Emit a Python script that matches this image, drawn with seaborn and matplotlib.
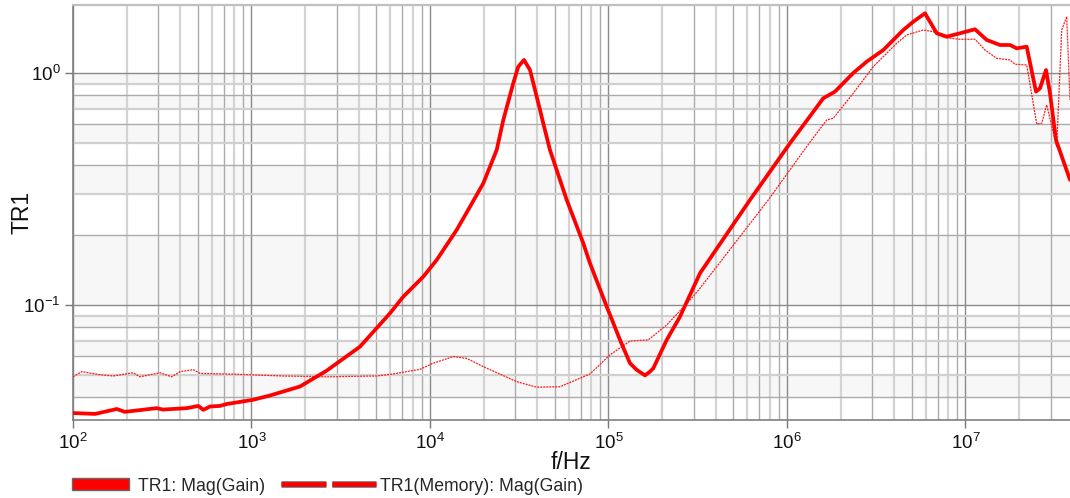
import numpy as np
import pandas as pd
import matplotlib
matplotlib.use("Agg")
import matplotlib.pyplot as plt
import matplotlib.patheffects as pe
from matplotlib.patches import Rectangle
from matplotlib.lines import Line2D
from matplotlib.ticker import LogLocator, LogFormatterSciNotation, NullLocator, NullFormatter
import seaborn as sns

# ---------------- data ----------------
freq_main = [100, 133, 176, 195, 294, 319, 434, 504, 537, 586, 666, 726, 1020, 1269, 1869,
             2638, 4054, 5970, 7086, 9172, 10900, 14110, 16760, 19890, 21680, 23640, 25740,
             29280, 31230, 33620, 36330, 39610, 41330, 43100, 47000, 58320, 72240, 78770,
             97700, 115960, 131900, 143900, 160100, 170800, 178200, 211900, 251500, 325500,
             620300, 1.039e6, 1.597e6, 1.857e6, 2.352e6, 2.796e6, 3.464e6, 4.482e6, 5.101e6,
             5.932e6, 6.900e6, 7.849e6, 9.316e6, 1.130e7, 1.315e7, 1.561e7, 1.776e7, 1.936e7,
             2.202e7, 2.483e7, 2.615e7, 2.825e7, 2.974e7, 3.214e7, 3.850e7]
gain_main = [0.0342, 0.0339, 0.0356, 0.0346, 0.0359, 0.0354, 0.0359, 0.0367, 0.0353, 0.0365,
             0.0367, 0.0374, 0.0390, 0.0407, 0.0445, 0.0521, 0.0661, 0.0921, 0.1086, 0.1324,
             0.1563, 0.2106, 0.2653, 0.3345, 0.3946, 0.4657, 0.627, 0.903, 1.065, 1.138, 1.03,
             0.790, 0.693, 0.607, 0.4657, 0.2836, 0.1845, 0.1512, 0.0984, 0.0707, 0.0561,
             0.0525, 0.0497, 0.0516, 0.0533, 0.0707, 0.089, 0.137, 0.2836, 0.4977, 0.778,
             0.831, 1.0, 1.119, 1.256, 1.532, 1.664, 1.808, 1.483, 1.434, 1.483, 1.543, 1.388,
             1.32, 1.32, 1.277, 1.298, 0.831, 0.859, 1.03, 0.818, 0.514, 0.346]

freq_mem = [100, 112, 142, 168, 217, 237, 307, 357, 398, 472, 515, 788, 981, 1507, 2638,
            5028, 6229, 8790, 10430, 13506, 16060, 19890, 30590, 39610, 53490, 72240, 78770,
            101950, 131900, 167100, 211900, 286100, 325500, 785700, 1.289e6, 1.669e6, 1.817e6,
            2.352e6, 3.045e6, 4.118e6, 4.685e6, 5.801e6, 6.600e6, 7.510e6, 9.316e6, 1.130e7,
            1.286e7, 1.495e7, 1.776e7, 1.894e7, 2.202e7, 2.506e7, 2.673e7, 2.850e7, 3.243e7,
            3.459e7, 3.689e7, 3.850e7]
gain_mem = [0.049, 0.0516, 0.050, 0.0494, 0.051, 0.049, 0.051, 0.049, 0.0516, 0.0526, 0.0507,
            0.0503, 0.050, 0.0494, 0.049, 0.0494, 0.0504, 0.0528, 0.0561, 0.0599, 0.0588,
            0.0542, 0.0467, 0.0442, 0.0444, 0.049, 0.0504, 0.0609, 0.0699, 0.0707, 0.082,
            0.105, 0.118, 0.2836, 0.4814, 0.627, 0.638, 0.818, 1.065, 1.343, 1.458, 1.532,
            1.507, 1.424, 1.397, 1.397, 1.256, 1.157, 1.138, 1.09, 1.083, 0.603, 0.607, 0.728,
            0.481, 1.532, 1.749, 0.765]

label_main = "TR1: Mag(Gain)"
label_mem = "TR1(Memory): Mag(Gain)"
x_label = "f/Hz"
y_label = "TR1"

# ---------------- style ----------------
sns.set_style("white")
plt.rcParams["font.family"] = ["Liberation Sans", "DejaVu Sans"]
plt.rcParams["mathtext.fontset"] = "custom"
plt.rcParams["mathtext.rm"] = "Liberation Sans"
plt.rcParams["mathtext.it"] = "Liberation Sans:italic"
plt.rcParams["mathtext.bf"] = "Liberation Sans:bold"

W, H = 1070, 498
fig = plt.figure(figsize=(W / 100, H / 100), dpi=100)
ax = fig.add_axes([73 / W, 78 / H, 1 - 73 / W, (420 - 5) / H])

ax.set_xscale("log")
ax.set_yscale("log")
xmin, xmax = 100, 3.85e7
ymin, ymax = 10 ** (-1.496), 10 ** 0.293
ax.set_xlim(xmin, xmax)
ax.set_ylim(ymin, ymax)

# background bands between horizontal grid lines
hlines = [ymax, 1.0] + [k / 10 for k in range(9, 0, -1)] + [k / 100 for k in range(9, 2, -1)]
for i in range(len(hlines) - 1):
    if i % 2 == 1:
        ax.axhspan(hlines[i + 1], hlines[i], color="#f7f7f7", zorder=0, lw=0)

# grid lines
for d in range(2, 8):
    ax.axvline(10 ** d, color="#8a8a8a", lw=1.0, zorder=1)
    for k in range(2, 10):
        v = k * 10 ** d
        if v < xmax:
            if k % 2 == 0:
                ax.axvline(v, color="#d4d4d4", lw=1.6, zorder=1)
            else:
                ax.axvline(v, color="#ababab", lw=1.0, zorder=1)
for d in (-2, -1, 0):
    ax.axhline(10 ** d, color="#8a8a8a", lw=1.0, zorder=1)
for d in (-2, -1):
    for k in range(2, 10):
        v = k * 10 ** d
        if v > ymin:
            if k % 2 == 1:
                ax.axhline(v, color="#d0d0d0", lw=1.6, zorder=1)
            else:
                ax.axhline(v, color="#ababab", lw=1.0, zorder=1)

# curves
df_main = pd.DataFrame({"f": freq_main, "g": gain_main})
df_mem = pd.DataFrame({"f": freq_mem, "g": gain_mem})
sns.lineplot(data=df_mem, x="f", y="g", ax=ax, color="#ff1a1a", lw=0.9,
             linestyle=(0, (1.6, 0.8)), zorder=3, estimator=None)
sns.lineplot(data=df_main, x="f", y="g", ax=ax, color="#ff0000", lw=2.7,
             zorder=4, estimator=None)

# axes styling
ax.xaxis.set_major_locator(LogLocator(base=10, numticks=20))
ax.yaxis.set_major_locator(LogLocator(base=10, numticks=20))
ax.xaxis.set_major_formatter(LogFormatterSciNotation())
ax.yaxis.set_major_formatter(LogFormatterSciNotation())
ax.xaxis.set_minor_locator(NullLocator())
ax.yaxis.set_minor_locator(NullLocator())
ax.xaxis.set_minor_formatter(NullFormatter())
ax.yaxis.set_minor_formatter(NullFormatter())
ax.tick_params(axis="both", which="major", direction="out", length=6, width=1,
               color="#777777", labelsize=13.5, labelcolor="#111111", pad=3)
ax.tick_params(left=True, bottom=True)

for s in ("left", "bottom"):
    ax.spines[s].set_color("#808080")
    ax.spines[s].set_linewidth(1.2)
ax.spines["top"].set_color("#c0c0c0")
ax.spines["top"].set_linewidth(1.6)
ax.spines["right"].set_visible(False)

ax.set_xlabel(x_label, fontsize=16.5, color="#111111")
ax.set_ylabel(y_label, fontsize=16.5, color="#111111")
ax.xaxis.set_label_coords((571 - 73) / (W - 73), -(462 - 420) / 415)
ax.yaxis.set_label_coords((22 - 73) / (W - 73), (420 - 212) / 415)
ax.xaxis.label.set_va("center")
ax.yaxis.label.set_va("center")

# legends
fs_leg = 12.7
px_per_em = fs_leg * 100 / 72
h1 = Rectangle((0, 0), 1, 1, facecolor="#ff0000", edgecolor="#666666", lw=1.0)
leg1 = fig.legend(handles=[h1], labels=[label_main], loc="center left",
                  bbox_to_anchor=(72 / W, 12 / H), frameon=False, borderpad=0,
                  borderaxespad=0, handlelength=57 / px_per_em, handleheight=11.5 / px_per_em,
                  handletextpad=9 / px_per_em, fontsize=fs_leg)
h2 = Line2D([], [], color="#ff0000", lw=3.3, linestyle=(0, (9.8, 1.3)),
            path_effects=[pe.Stroke(linewidth=4.7, foreground="#666666"), pe.Normal()])
leg2 = fig.legend(handles=[h2], labels=[label_mem], loc="center left",
                  bbox_to_anchor=(281 / W, 12 / H), frameon=False, borderpad=0,
                  borderaxespad=0, handlelength=95 / px_per_em, handletextpad=4 / px_per_em,
                  fontsize=fs_leg)

fig.savefig("out.png", dpi=100)
